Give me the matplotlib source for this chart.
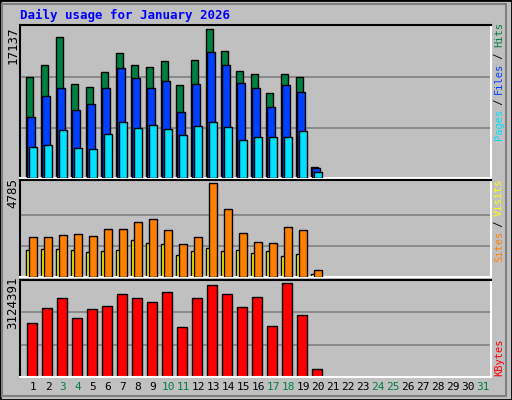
import matplotlib.pyplot as plt
from matplotlib.patches import Rectangle

days = list(range(1, 32))
hits = [11672, 13068, 16323, 10859, 10510, 12254, 14463, 13068, 12835, 13533,
        10742, 13649, 17137, 14695, 12370, 12021, 9812, 12021, 11672, 1325]
files = [7022, 9464, 10394, 7836, 8534, 10394, 12719, 11556, 10394, 11207,
         7603, 10859, 14579, 13068, 10975, 10394, 8185, 10742, 9929, 1163]
pages = [3534, 3767, 5511, 3418, 3302, 5046, 6441, 5743, 6092, 5627,
         4929, 5976, 6441, 5860, 4348, 4697, 4697, 4697, 5394, 744]
visits = [1368, 1419, 1419, 1368, 1264, 1316, 1368, 1886, 1730, 1678,
          1109, 1316, 1471, 1316, 1368, 1212, 1316, 1057, 1160, 176]
sites = [2041, 2041, 2145, 2196, 2093, 2455, 2455, 2818, 2922, 2404,
         1678, 2041, 4785, 3440, 2248, 1782, 1730, 2559, 2404, 332]
kbytes = [1791000, 2304000, 2612000, 1962000, 2270000, 2372000, 2748000, 2612000, 2475000, 2817000,
          1655000, 2612000, 3056000, 2748000, 2338000, 2646000, 1689000, 3124391, 2065000, 253000]
weekends = [3, 4, 10, 11, 17, 18, 24, 25, 31]

W, H = 512, 400
BG = '#C0C0C0'
fig = plt.figure(figsize=(W / 100, H / 100), dpi=100, facecolor=BG)
font = 'DejaVu Sans Mono'

# outer frame
fig.patches.append(Rectangle((0, 0), 1, 1, transform=fig.transFigure, fill=False,
                             edgecolor='black', lw=2))
fig.patches.append(Rectangle((2 / W, 4 / H), (W - 8) / W, (H - 8) / H, transform=fig.transFigure,
                             fill=False, edgecolor='#808080', lw=1.5))
fig.text(20 / W, 1 - 15 / H, 'Daily usage for January 2026', color='#0000FF', fontsize=9,
         family=font, weight='bold', va='center')


def panel(top, bottom):
    ax = fig.add_axes([20 / W, 1 - bottom / H, 471 / W, (bottom - top) / H])
    ax.set_facecolor(BG)
    ax.set_xlim(0.13, 31.53)
    ax.set_xticks([])
    ax.set_yticks([])
    for s in ['top', 'left']:
        ax.spines[s].set_color('black')
    for s in ['bottom', 'right']:
        ax.spines[s].set_color('white')
    for sp in ax.spines.values():
        sp.set_linewidth(1.5)
    return ax


def grid(ax, mx, fracs):
    for f in fracs:
        ax.axhline(mx * f, color='#808080', lw=1.2, zorder=0)


n = len(hits)
d = days[:n]

ax1 = panel(25, 178)
ax1.set_ylim(0, 17137 * 1.03)
grid(ax1, 17137, [0.335, 0.68])
ax1.bar([x - 0.49 for x in d], hits, width=0.47, align='edge', color='#008040', edgecolor='black', lw=1, zorder=2)
ax1.bar([x - 0.38 for x in d], files, width=0.49, align='edge', color='#0040FF', edgecolor='black', lw=1, zorder=3)
ax1.bar([x - 0.25 for x in d], pages, width=0.49, align='edge', color='#00E0FF', edgecolor='black', lw=1, zorder=4)
fig.text(13 / W, 1 - 45 / H, '17137', rotation=90, family=font, fontsize=9, ha='center', va='center')

ax2 = panel(180, 277)
ax2.set_ylim(0, 4785 * 1.03)
grid(ax2, 4785, [0.33, 0.66])
ax2.bar([x - 0.49 for x in d], visits, width=0.27, align='edge', color='#FFFF00', edgecolor='black', lw=1, zorder=2)
ax2.bar([x - 0.25 for x in d], sites, width=0.49, align='edge', color='#FF8000', edgecolor='black', lw=1, zorder=3)
fig.text(13 / W, 1 - 193 / H, '4785', rotation=90, family=font, fontsize=9, ha='center', va='center')

ax3 = panel(280, 377)
ax3.set_ylim(0, 3124391 * 1.03)
grid(ax3, 3124391, [0.34, 0.69])
ax3.bar([x - 0.42 for x in d], kbytes, width=0.67, align='edge', color='#FF0000', edgecolor='black', lw=1, zorder=2)
fig.text(13 / W, 1 - 303 / H, '3124391', rotation=90, family=font, fontsize=9, ha='center', va='center')

for day in days:
    ax3.text(day, -0.1, str(day), transform=ax3.get_xaxis_transform(), ha='center', va='center',
             family=font, fontsize=8, color='#008040' if day in weekends else 'black')


def side_labels(parts, y_bottom):
    # words stacked bottom to top, one text per colour
    y = y_bottom
    for txt, col in parts:
        fig.text(499 / W, 1 - y / H, txt, rotation=90, family=font, fontsize=7.5, color=col,
                 ha='center', va='bottom')
        y -= len(txt) * 5.8


side_labels([('Pages', '#00E0FF'), (' / ', 'black'), ('Files', '#0040FF'), (' / ', 'black'), ('Hits', '#008040')], 140)
side_labels([('Sites', '#FF8000'), (' / ', 'black'), ('Visits', '#FFFF00')], 262)
side_labels([('KBytes', '#FF0000')], 376)

fig.savefig('out.png', dpi=100, facecolor=BG)
